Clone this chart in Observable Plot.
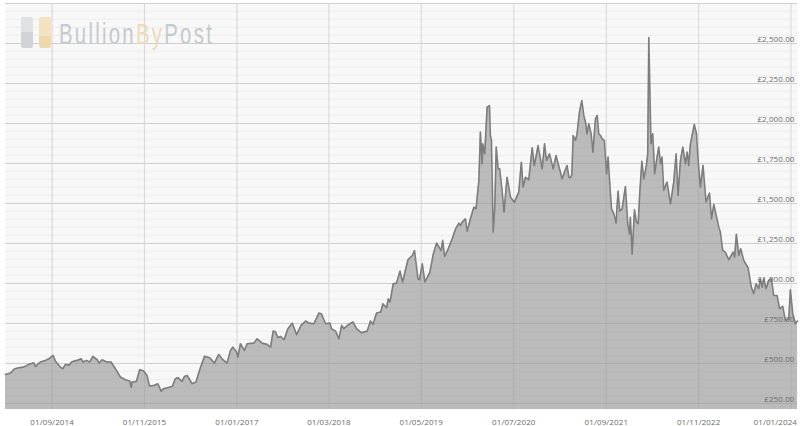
<!DOCTYPE html>
<html>
<head>
<meta charset="utf-8">
<script src="https://cdn.jsdelivr.net/npm/d3@7"></script>
<script src="https://cdn.jsdelivr.net/npm/@observablehq/plot@0.6"></script>
<style>
html,body{margin:0;padding:0;background:#fff;width:800px;height:426px;overflow:hidden}
#wrap{position:relative;width:800px;height:426px}
#logo{position:absolute;left:0;top:0;width:230px;height:60px;pointer-events:none}
#logo i{position:absolute;width:12px;height:31px;top:17px;border-radius:2px;opacity:.95}
#logo .t{position:absolute;left:59px;top:15px;font:30px/38px "Liberation Sans",sans-serif;font-weight:400;letter-spacing:3.3px;color:#c6c9cd;white-space:nowrap;transform-origin:0 0;transform:scaleX(.68)}
#logo .t b{font-weight:400;color:#ecdcb9}
</style>
</head>
<body>
<div id="wrap">
<div id="chart"></div>
<div id="logo">
<i style="left:21px;background:linear-gradient(#dfe0e2 50%,#cfd1d4 50%)"></i>
<i style="left:39px;background:linear-gradient(#f2e1bd 60%,#eed8aa 60%)"></i>
<div class="t">Bullion<b>By</b>Post</div>
</div>
</div>
<script>
// Days after 1 Sep 2014
const dayOffsets = [
-215,-192,-174,-154,-131,-108,-85,-77,-54,-31,-15,5,15,38,49,62,77,92,115,134,143,158,174,188,208,218,231,251,272,292,315,338,358,365,369,389,404,423,438,449,472,488,503,515,554,569,580,600,611,623,646,664,680,703,727,749,769,784,807,823,834,851,857,869,887,900,931,946,969,992,
1008,1020,1031,1042,1054,1070,1088,1108,1128,1149,1170,1185,1208,1231,1242,1262,1282,1289,1308,1323,1336,1346,1369,1388,1405,1426,1454,1469,1480,1497,1516,1526,1543,1551,1559,1574,1589,1605,1617,1642,1662,1672,1688,1695,1708,1720,1743,1759,1774,1795,1802,1811,1826,1846,1862,1877,
1884,1892,1907,1915,1930,1946,1956,1969,1976,1984,1987,1996,2007,2018,2022,2027,2035,2042,2049,2058,2065,2076,2085,2099,2115,2133,2153,2165,2173,2184,2199,2215,2225,2242,2250,2261,2272,2281,2295,2312,2325,2353,2368,2376,2384,2391,2398,2404,2415,2422,2433,2444,2453,2461,2468,2476,2487,2495,2507,2515,2522,2530,2538,2548,
2558,2565,2576,2581,2592,2602,2611,2619,2630,2645,2656,2664,2668,2676,2687,2696,2704,2711,2721,2730,2742,2748,2753,2757,2763,2771,2780,2791,2799,2807,2814,2822,2837,2853,2868,2879,2888,2899,2910,2922,2930,2937,2945,2963,2973,2980,2991,3003,
3017,3033,3042,3053,3076,3083,3094,3106,3122,3142,3149,3157,3168,3177,3191,3211,3226,3237,3248,3260,3268,3276,3283,3294,3306,3319,3329,3345,3356,3371,3383,3399,3406,3417,3429,3434,3439];
const prices = [
431,440,465,473,477,494,504,481,509,519,529,550,515,477,467,494,488,511,519,529,509,519,509,544,523,502,523,509,509,467,415,398,390,352,384,388,461,452,425,359,363,373,327,342,356,404,411,388,419,425,373,384,456,544,536,502,556,529,502,581,602,571,540,623,581,623,627,654,627,619,
602,702,696,661,669,648,717,752,680,738,765,752,748,815,811,748,752,717,702,654,738,717,744,759,717,692,702,765,744,815,821,873,848,904,884,998,1002,1077,1009,1148,1175,1206,1029,1023,1123,1009,1071,1186,1252,1206,1269,1169,1211,1279,1342,1377,
1362,1383,1404,1327,1404,1477,1467,1644,1946,1748,1873,1810,2102,2112,1925,1894,1321,1467,1852,1716,1716,1581,1446,1664,1539,1508,1571,1758,1602,1664,1648,1848,1737,1862,1800,1716,1873,1769,1810,1716,1800,1654,1710,1737,1664,1660,1680,1925,1894,1935,2071,2143,2050,2008,1935,1998,1935,1821,2029,2050,1935,1925,1904,1894,
1685,1790,1560,1466,1435,1377,1577,1452,1466,1606,1373,1310,1414,1185,1460,1383,1373,1560,1764,1654,1738,1811,2537,2269,1873,1936,1686,1790,1852,1748,1790,1582,1634,1498,1634,1811,1550,1769,1852,1748,1821,1738,1873,1994,1936,1780,1602,1738,
1509,1565,1404,1494,1352,1321,1207,1196,1148,1196,1165,1307,1175,1217,1144,1098,977,936,998,967,1029,977,1029,967,1019,1029,925,925,842,857,769,779,961,811,748,759,765];
const majorTicks = [250,500,750,1000,1250,1500,1750,2000,2250,2500];
const minorTicks = d3.range(250,2750,50).filter(v=>v%250!==0);
const dateTicks = ["2014-09-01","2015-11-01","2017-01-01","2018-03-01","2019-05-01","2020-07-01","2021-09-01","2022-11-01","2024-01-01"];
const yMin = 212, yMax = 2750;
const origin = new Date(Date.UTC(2014,8,1));

const toDate = n => d3.utcDay.offset(origin,n);
const data = dayOffsets.map((n,i)=>({date:toDate(n),price:prices[i]}));
const tickDates = dateTicks.map(s=>new Date(s+"T00:00:00Z"));
const fmtDate = d3.utcFormat("%d/%m/%Y");
const fmtPrice = v=>"£"+d3.format(",.2f")(v);
const labelStyle = {fontFamily:'"Open Sans",sans-serif',fontSize:8,fill:"#6a6a6a"};

const plot = Plot.plot({
  width:800,height:426,
  marginLeft:5,marginRight:3,marginTop:3,marginBottom:17,
  style:{background:"#fff",fontFamily:'"Open Sans",sans-serif',letterSpacing:"0.1px"},
  x:{type:"utc",domain:[toDate(-215),toDate(3439)]},
  y:{domain:[yMin,yMax]},
  marks:[
    Plot.frame({fill:"#f8f8f8",stroke:null}),
    Plot.ruleY(minorTicks,{stroke:"#efefef",strokeWidth:1.5}),
    Plot.ruleY(majorTicks,{stroke:"#cfcfcf",strokeWidth:1}),
    Plot.ruleY([yMax],{stroke:"#cfcfcf",strokeWidth:1}),
    Plot.ruleX(tickDates,{stroke:"#d6d6d6",strokeWidth:1}),
    Plot.areaY(data,{x:"date",y1:()=>yMin,y2:"price",fill:"#8f8f8f",fillOpacity:0.58}),
    Plot.lineY(data,{x:"date",y:"price",stroke:"#7d7d7d",strokeWidth:1.6,curve:"linear"}),
    Plot.text(majorTicks,{y:d=>d,text:fmtPrice,frameAnchor:"right",textAnchor:"end",dx:-3,dy:-4,...labelStyle}),
    Plot.text(tickDates.slice(0,-1),{x:d=>d,text:fmtDate,frameAnchor:"bottom",dy:12.5,lineAnchor:"middle",...labelStyle}),
    Plot.text(tickDates.slice(-1),{x:d=>d,text:fmtDate,frameAnchor:"bottom",textAnchor:"end",dx:6,dy:12.5,lineAnchor:"middle",...labelStyle})
  ],
  axis:null
});
document.getElementById("chart").appendChild(plot);
</script>
</body>
</html>
